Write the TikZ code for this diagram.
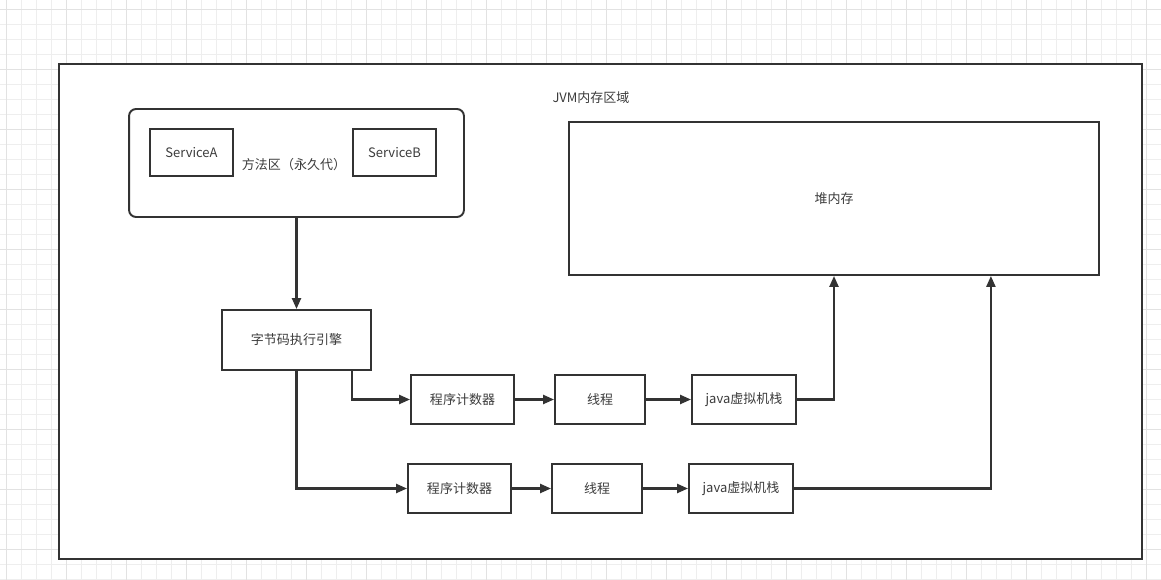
\documentclass[tikz,border=0pt]{standalone}
\usepackage{fontspec}
\setmainfont{Noto Sans CJK SC}
\usepackage{tikz}
\usetikzlibrary{arrows.meta, positioning, calc}
\definecolor{mydark}{RGB}{51,51,51}
\definecolor{mytext}{RGB}{60,60,60}
\definecolor{gridminor}{RGB}{238,238,238}
\definecolor{gridmajor}{RGB}{226,226,226}
\tikzset{
  box/.style={rectangle, draw=mydark, fill=white, line width=1.1pt,
    text=mytext, font=\fontsize{7.4}{9}\selectfont, inner sep=0pt},
  roundbox/.style={box, rounded corners=4pt},
  label/.style={text=mytext, font=\fontsize{7.4}{9}\selectfont, inner sep=0pt},
  arrow/.style={-{Triangle[length=0.22cm, width=0.18cm]}, line width=1.3pt, color=mydark},
  line/.style={line width=1.3pt, color=mydark}
}

\begin{document}
\begin{tikzpicture}[x=0.02cm, y=-0.02cm]
  \useasboundingbox (0,0) rectangle (1161,580);
  % canvas grid
  \foreach \gx in {6.7,21.7,...,1161} \draw[gridminor, line width=0.5pt] (\gx,0) -- (\gx,580);
  \foreach \gy in {9.3,24.3,...,580} \draw[gridminor, line width=0.5pt] (0,\gy) -- (1161,\gy);
  \foreach \gx in {6.7,66.7,...,1161} \draw[gridmajor, line width=0.5pt] (\gx,0) -- (\gx,580);
  \foreach \gy in {9.3,69.3,...,580} \draw[gridmajor, line width=0.5pt] (0,\gy) -- (1161,\gy);

  % JVM area
  \node[box, minimum width=21.66cm, minimum height=9.9cm] (jvm) at (600.5,311.5) {};
  \node[label] (jvmlabel) at (591,98) {JVM内存区域};

  % method area
  \node[roundbox, minimum width=6.7cm, minimum height=2.16cm] (method) at (296.5,163) {};
  \node[label] (methodlabel) at (294,165) {方法区（永久代）};
  \node[box, minimum width=1.66cm, minimum height=0.94cm] (svca) at (191.5,152.5) {ServiceA};
  \node[box, minimum width=1.66cm, minimum height=0.94cm] (svcb) at (394.5,152.5) {ServiceB};

  % heap
  \node[box, minimum width=10.6cm, minimum height=3.06cm] (heap) at (834,198.5) {堆内存};

  % execution engine
  \node[box, minimum width=2.98cm, minimum height=1.2cm] (engine) at (296.5,340) {字节码执行引擎};

  % thread 1
  \node[box, minimum width=2.06cm, minimum height=0.98cm] (pc1) at (462.5,399.5) {程序计数器};
  \node[box, minimum width=1.8cm, minimum height=0.98cm] (thread1) at (600,399.5) {线程};
  \node[box, minimum width=2.08cm, minimum height=0.98cm] (stack1) at (744,399.5) {java虚拟机栈};

  % thread 2
  \node[box, minimum width=2.06cm, minimum height=0.98cm] (pc2) at (459.5,488.5) {程序计数器};
  \node[box, minimum width=1.8cm, minimum height=0.98cm] (thread2) at (597,488.5) {线程};
  \node[box, minimum width=2.08cm, minimum height=0.98cm] (stack2) at (741,488.5) {java虚拟机栈};

  \draw[arrow] (method.south) -- (engine.north);
  \draw[arrow] ($(engine.south east)+(-20,0)$) |- (pc1.west);
  \draw[arrow] (engine.south) |- (pc2.west);
  \draw[arrow] (pc1) -- (thread1);
  \draw[arrow] (thread1) -- (stack1);
  \draw[arrow] (pc2) -- (thread2);
  \draw[arrow] (thread2) -- (stack2);
  \draw[arrow] (stack1.east) -| (heap.south);
  \draw[arrow] (stack2.east) -| ($(heap.south east)+(-109,0)$);
\end{tikzpicture}
\end{document}
